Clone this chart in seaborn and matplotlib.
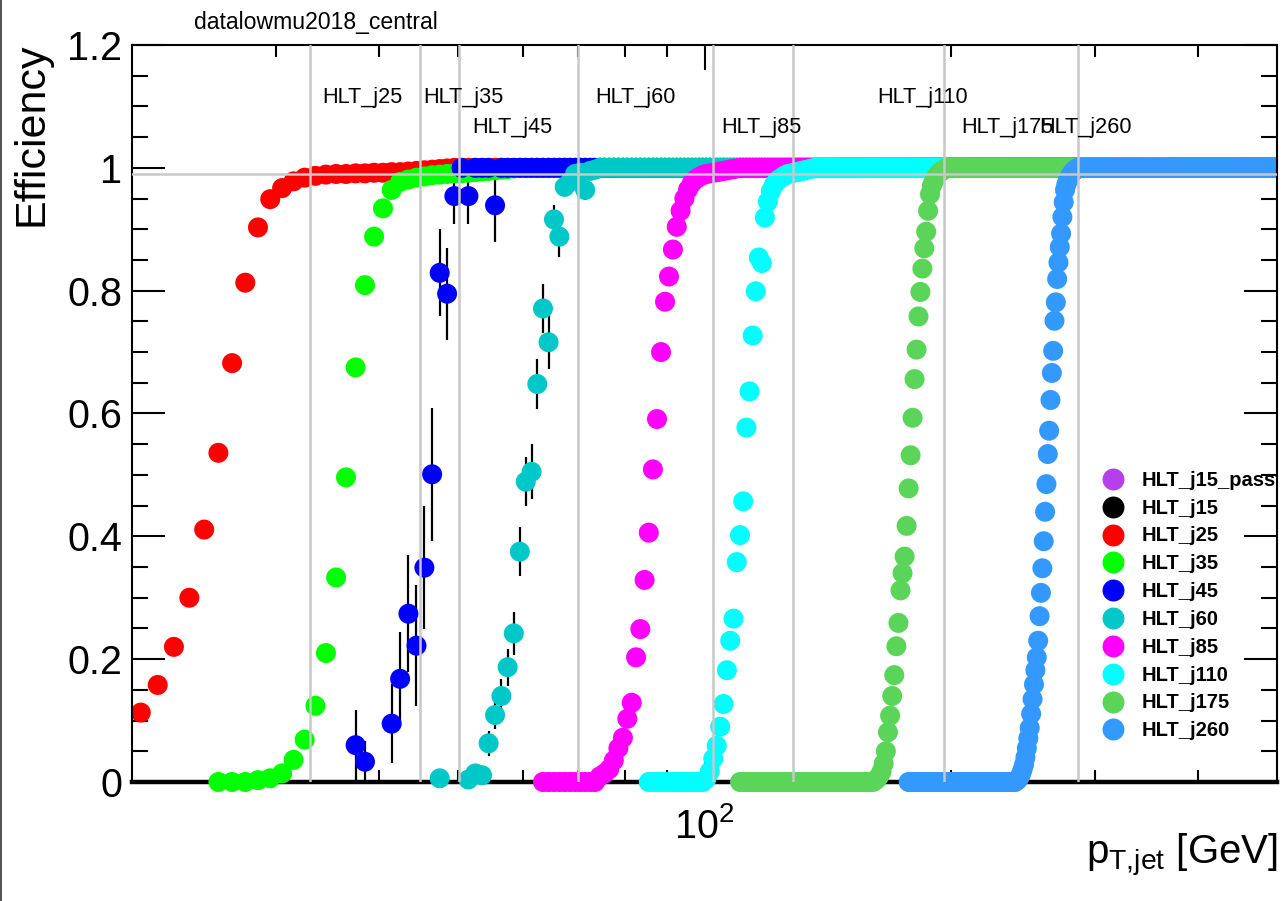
import numpy as np
import pandas as pd
import matplotlib
matplotlib.use("Agg")
import matplotlib.pyplot as plt
import seaborn as sns
from matplotlib.ticker import FixedLocator, FixedFormatter, NullFormatter, MultipleLocator, FuncFormatter
from matplotlib.transforms import Bbox, TransformedBbox
from matplotlib.lines import Line2D

# ---------------------------------------------------------------------------
# Trigger efficiencies vs leading-jet pT, 1 GeV bins (centres at n + 0.5 GeV).
# Each curve: first bin centre, number of leading bins at zero efficiency,
# the measured turn-on values, and the plateau value kept up to LAST_BIN.
# ---------------------------------------------------------------------------
LAST_BIN = 499.5

triggers = ["HLT_j25", "HLT_j35", "HLT_j45", "HLT_j60",
            "HLT_j85", "HLT_j110", "HLT_j175", "HLT_j260"]
trigger_colors = ["#ff0000", "#00ff00", "#0000ff", "#00c8c8",
                  "#ff00ff", "#00ffff", "#5ad55a", "#3399ff"]

legend_labels = ["HLT_j15_passthrough", "HLT_j15"] + triggers
legend_colors = ["#b53fe8", "#000000"] + trigger_colors

j25_first, j25_zeros = 20.5, 0
j25_turnon = [0.113, 0.158, 0.220, 0.300, 0.411, 0.536, 0.682, 0.813, 0.903, 0.949,
              0.967, 0.978, 0.984, 0.987, 0.989, 0.990, 0.990, 0.991, 0.991, 0.992,
              0.992, 0.993, 0.993, 0.994, 0.995, 0.996, 0.997, 0.998, 0.999]
j25_plateau = 1.0

j35_first, j35_zeros = 25.5, 3
j35_turnon = [0.003, 0.006, 0.014, 0.036, 0.069, 0.124, 0.210, 0.333, 0.496, 0.675,
              0.809, 0.888, 0.934, 0.964, 0.977, 0.981, 0.984, 0.986, 0.988, 0.989,
              0.990, 0.991, 0.991, 0.992, 0.993, 0.994, 0.995, 0.996, 0.997, 0.998, 0.999]
j35_plateau = 1.0

nan = np.nan
j45_first, j45_zeros = 37.5, 0
j45_turnon = [0.060, 0.033, nan, nan, 0.095, 0.168, 0.274, 0.222, 0.349, 0.501,
              0.829, 0.795, 0.954, 1.000, 0.954, 1.000, 1.000, 1.000, 0.939]
j45_err = [0.058, 0.033, nan, nan, 0.064, 0.077, 0.095, 0.099, 0.100, 0.108,
           0.071, 0.075, 0.045, 0.0, 0.045, 0.0, 0.0, 0.0, 0.060]
j45_plateau = 1.0

j60_first, j60_zeros = 47.5, 0
j60_turnon = [0.006, nan, nan, nan, 0.004, 0.014, 0.011, 0.063, 0.109, 0.140,
              0.187, 0.242, 0.375, 0.489, 0.505, 0.648, 0.771, 0.716, 0.916, 0.888,
              0.969, 0.977, 0.990, 0.992, 0.964, 0.995, 0.997]
j60_err = [0.006, nan, nan, nan, 0.006, 0.010, 0.010, 0.020, 0.023, 0.027,
           0.030, 0.035, 0.040, 0.040, 0.045, 0.041, 0.040, 0.044, 0.024, 0.033,
           0.015, 0.015, 0.008, 0.008, 0.016, 0.005, 0.003]
j60_plateau = 1.0

j85_first, j85_zeros = 63.5, 11
j85_turnon = [0.009, 0.014, 0.021, 0.035, 0.055, 0.072, 0.103, 0.129, 0.203, 0.249,
              0.329, 0.406, 0.509, 0.591, 0.700, 0.782, 0.823, 0.867, 0.904, 0.930,
              0.950, 0.965, 0.975, 0.981, 0.985, 0.988, 0.990, 0.991, 0.992, 0.993,
              0.994, 0.995, 0.996, 0.997, 0.998, 0.999]
j85_plateau = 1.0

j110_first, j110_zeros = 85.5, 15
j110_turnon = [0.005, 0.017, 0.038, 0.059, 0.090, 0.127, 0.182, 0.230, 0.266, 0.358,
               0.402, 0.457, 0.577, 0.636, 0.727, 0.799, 0.854, 0.845, 0.919, 0.945,
               0.962, 0.972, 0.978, 0.982, 0.985, 0.988, 0.990, 0.991, 0.992, 0.993,
               0.994, 0.995, 0.996, 0.997, 0.998, 0.999]
j110_plateau = 1.0

j175_first, j175_zeros = 110.5, 51
j175_turnon = [0.002, 0.005, 0.010, 0.017, 0.030, 0.050, 0.081, 0.108, 0.140, 0.174,
               0.221, 0.259, 0.312, 0.340, 0.367, 0.417, 0.478, 0.532, 0.593, 0.656,
               0.704, 0.758, 0.798, 0.836, 0.869, 0.896, 0.930, 0.957, 0.971, 0.978,
               0.984, 0.988, 0.992, 0.994, 0.996, 0.998]
j175_plateau = 1.0

j260_first, j260_zeros = 177.5, 63
j260_turnon = [0.002, 0.004, 0.008, 0.013, 0.020, 0.028, 0.040, 0.055, 0.071, 0.088,
               0.111, 0.135, 0.159, 0.182, 0.203, 0.230, 0.270, 0.308, 0.348, 0.392,
               0.440, 0.485, 0.534, 0.572, 0.622, 0.666, 0.702, 0.751, 0.781, 0.819,
               0.846, 0.871, 0.893, 0.920, 0.944, 0.964, 0.972, 0.978, 0.983, 0.987,
               0.990, 0.993, 0.995, 0.997, 0.998]
j260_plateau = 1.0

# Reference thresholds drawn as grey lines, and the trigger name labels
threshold_pt = [33.0, 45.0, 50.1, 70.0, 102.3, 128.3, 196.1, 285.8]
label_pt = [34.1, 45.4, 52.1, 73.5, 104.7, 162.6, 205.8, 256.2]
label_eff = [1.105, 1.105, 1.056, 1.105, 1.056, 1.105, 1.056, 1.056]
plateau_level = 0.99


def curve(name, first, zeros, turnon, plateau):
    n_bins = int(round(LAST_BIN - first)) + 1
    eff = [0.0] * zeros + list(turnon)
    eff += [plateau] * (n_bins - len(eff))
    pt = first + np.arange(n_bins)
    return pd.DataFrame({"pt": pt, "eff": eff, "trigger": name})


curves = [
    curve("HLT_j25", j25_first, j25_zeros, j25_turnon, j25_plateau),
    curve("HLT_j35", j35_first, j35_zeros, j35_turnon, j35_plateau),
    curve("HLT_j45", j45_first, j45_zeros, j45_turnon, j45_plateau),
    curve("HLT_j60", j60_first, j60_zeros, j60_turnon, j60_plateau),
    curve("HLT_j85", j85_first, j85_zeros, j85_turnon, j85_plateau),
    curve("HLT_j110", j110_first, j110_zeros, j110_turnon, j110_plateau),
    curve("HLT_j175", j175_first, j175_zeros, j175_turnon, j175_plateau),
    curve("HLT_j260", j260_first, j260_zeros, j260_turnon, j260_plateau),
]
df = pd.concat(curves, ignore_index=True).dropna(subset=["eff"])

# ---------------------------------------------------------------------------
sns.set_style("ticks", {"axes.edgecolor": "black", "xtick.color": "black",
                        "ytick.color": "black", "text.color": "black"})
plt.rcParams["font.family"] = ["Liberation Sans", "DejaVu Sans"]
plt.rcParams["mathtext.fontset"] = "custom"
plt.rcParams["mathtext.rm"] = "Liberation Sans"
plt.rcParams["mathtext.it"] = "Liberation Sans:italic"
plt.rcParams["mathtext.bf"] = "Liberation Sans:bold"

W, H = 1284, 901
fig = plt.figure(figsize=(W / 100, H / 100), dpi=100, facecolor="white")
ax = fig.add_axes([132 / W, 1 - 782 / H, (1277 - 132) / W, (782 - 45) / H])
ax.set_xscale("log")

# error bars of the low-statistics curves, under the markers
for first, vals, errs in [(j45_first, j45_turnon, j45_err), (j60_first, j60_turnon, j60_err)]:
    pts = first + np.arange(len(vals))
    ax.errorbar(pts, vals, yerr=errs, fmt="none", ecolor="black",
                elinewidth=1.6, capsize=0, zorder=1.8)

sns.scatterplot(data=df, x="pt", y="eff", hue="trigger", hue_order=triggers,
                palette=dict(zip(triggers, trigger_colors)), s=207,
                linewidth=0, edgecolor="none", legend=False, ax=ax, zorder=2)
pts_coll = ax.collections[-1]
pts_coll.set_clip_path(None)
pts_coll.set_clip_box(TransformedBbox(Bbox([[0, -0.06], [1, 1.06]]), ax.transAxes))
pts_coll.set_clip_on(True)

for v in threshold_pt:
    ax.axvline(v, color="#c8c8c8", lw=1.8, zorder=3)
ax.axhline(plateau_level, color="#c8c8c8", lw=1.8, zorder=3)

for name, x, y in zip(triggers, label_pt, label_eff):
    ax.text(x, y, name, fontsize=15.6, ha="left", va="baseline", zorder=4)

ax.set_xlim(20, 500)
ax.set_ylim(0, 1.2)
ax.set_xlabel("")
ax.set_ylabel("")

ax.xaxis.set_major_locator(FixedLocator([100]))
ax.xaxis.set_major_formatter(FixedFormatter([r"$\mathregular{10^{2}}$"]))
ax.xaxis.set_minor_locator(FixedLocator([30, 40, 50, 60, 70, 80, 90, 200, 300, 400]))
ax.xaxis.set_minor_formatter(NullFormatter())
ax.yaxis.set_major_locator(MultipleLocator(0.2))
ax.yaxis.set_minor_locator(MultipleLocator(0.05))
ax.yaxis.set_major_formatter(FuncFormatter(lambda v, _: f"{v:g}"))

ax.tick_params(axis="x", which="major", direction="in", length=18, width=1.5,
               top=True, bottom=True, labelsize=28.5, pad=18)
ax.tick_params(axis="x", which="minor", direction="in", length=8.6, width=1.5,
               top=True, bottom=True)
ax.tick_params(axis="y", which="major", direction="in", length=23.8, width=1.5,
               left=True, right=True, labelsize=28.5, pad=7)
ax.tick_params(axis="y", which="minor", direction="in", length=11.5, width=1.5,
               left=True, right=True)

for side in ["top", "left", "right"]:
    ax.spines[side].set_linewidth(1.5)
ax.spines["bottom"].set_linewidth(3.2)
ax.spines["bottom"].set_zorder(1.5)

# titles and axis labels
fig.text(194 / W, 1 - 29 / H, "datalowmu2018_central", fontsize=16.6,
         ha="left", va="baseline")
fig.text(43 / W, 1 - 43 / H, "Efficiency", fontsize=31, rotation=90,
         rotation_mode="anchor", ha="right", va="baseline")
fig.text(1278 / W, 1 - 864 / H, r"p$_{\mathregular{T{,}jet}}$ [GeV]", fontsize=29,
         ha="right", va="baseline")

# legend: filled circles with bold names, clipped at the frame
row0, row_step = 478.9, 27.83
for i, (lab, col) in enumerate(zip(legend_labels, legend_colors)):
    yc = row0 + i * row_step
    ax.plot([1113 / W], [1 - yc / H], "o", transform=fig.transFigure, ms=15.8,
            color=col, mec="none", clip_on=False, zorder=5)
    t = ax.text(1142 / W, 1 - (yc + 6.8) / H, lab, transform=fig.transFigure,
                fontsize=14.5, fontweight="bold", ha="left", va="baseline",
                zorder=5, clip_on=True)
    t.set_clip_box(ax.bbox)

fig.add_artist(Line2D([0.6 / W, 0.6 / W], [0, 1], transform=fig.transFigure,
                      color="#333333", lw=1.2))

fig.savefig("out.png", dpi=100, facecolor="white")
